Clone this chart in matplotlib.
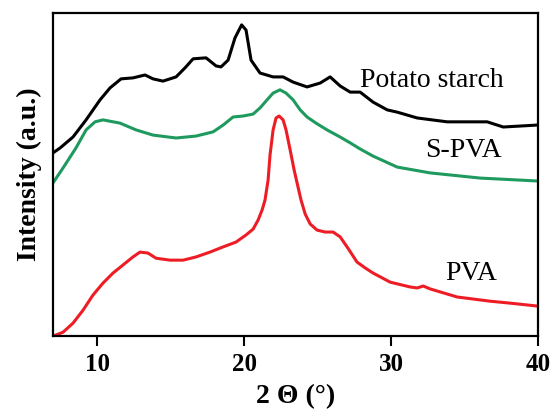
import matplotlib
matplotlib.use("Agg")
import matplotlib.pyplot as plt

plt.rcParams['font.family'] = ['Liberation Serif', 'DejaVu Serif']

# XRD patterns, 2theta (deg) vs intensity (a.u., already offset)
starch_2t = [7.00, 7.48, 8.36, 9.25, 10.20, 10.88, 11.63, 12.44, 13.26, 13.80,
             14.48, 15.37, 15.98, 16.53, 17.41, 18.09, 18.43, 18.91, 19.38, 19.83,
             20.13, 20.47, 21.08, 21.97, 22.65, 23.33, 24.28, 25.17, 25.85, 26.53,
             27.21, 27.89, 28.77, 29.73, 30.41, 31.77, 33.81, 35.37, 36.53, 37.62,
             38.78, 39.93]
starch_int = [56.7, 58.2, 61.6, 66.9, 73.1, 76.8, 79.6, 79.9, 80.8, 79.6,
              78.9, 80.2, 83.0, 85.8, 86.1, 83.6, 83.3, 85.4, 92.3, 96.3,
              94.7, 85.4, 81.4, 80.2, 80.2, 78.6, 77.1, 78.3, 80.2, 77.4,
              75.5, 75.5, 72.4, 70.0, 69.3, 67.5, 66.3, 66.3, 66.3, 64.7,
              65.0, 65.3]

spva_2t = [7.00, 7.68, 8.56, 9.25, 9.86, 10.40, 11.56, 12.65, 13.80, 15.37,
           16.73, 17.89, 18.57, 19.25, 19.93, 20.61, 21.08, 21.56, 21.97, 22.44,
           22.85, 23.33, 23.81, 24.28, 24.89, 25.64, 26.53, 27.21, 27.89, 28.77,
           30.41, 32.65, 36.05, 39.93]
spva_int = [47.4, 52.0, 58.2, 63.8, 66.3, 66.9, 65.9, 63.8, 62.2, 61.3,
            61.9, 63.2, 65.3, 67.8, 68.1, 68.7, 70.6, 73.1, 75.2, 76.2,
            75.2, 73.1, 70.0, 67.8, 65.9, 63.8, 61.6, 59.8, 57.9, 55.7,
            52.3, 50.5, 48.9, 48.0]

pva_2t = [7.00, 7.68, 8.36, 9.04, 9.72, 10.40, 11.08, 11.76, 12.44, 12.92,
          13.46, 14.01, 14.96, 15.85, 16.73, 17.68, 18.57, 19.45, 20.13, 20.61,
          20.95, 21.22, 21.42, 21.63, 21.76, 21.97, 22.17, 22.38, 22.65, 22.85,
          23.13, 23.40, 23.60, 23.87, 24.15, 24.49, 24.96, 25.51, 26.05, 26.53,
          27.00, 27.68, 28.23, 28.77, 29.93, 31.29, 31.77, 32.18, 32.65, 34.49,
          36.73, 38.09, 39.93]
pva_int = [0.0, 1.2, 4.0, 8.0, 12.7, 16.4, 19.5, 22.0, 24.5, 26.0,
           25.7, 24.1, 23.5, 23.5, 24.5, 26.0, 27.6, 29.1, 31.3, 33.1,
           35.9, 39.0, 42.1, 48.3, 56.0, 63.8, 67.5, 68.1, 66.9, 63.8,
           57.6, 51.4, 47.4, 42.1, 37.8, 34.7, 32.8, 32.2, 32.2, 30.7,
           27.6, 22.9, 21.1, 19.5, 16.7, 15.2, 14.9, 15.5, 14.6, 12.1,
           10.8, 10.2, 9.3]

xticks = [10, 20, 30, 40]

fig = plt.figure(figsize=(5.52, 4.17), dpi=100)
ax = fig.add_axes([0.096, 0.194, 0.879, 0.775])

ax.plot(starch_2t, starch_int, color='black', lw=2.2, solid_joinstyle='round')
ax.plot(spva_2t, spva_int, color='#1f9a5e', lw=2.2, solid_joinstyle='round')
ax.plot(pva_2t, pva_int, color='#ee1d25', lw=2.2, solid_joinstyle='round')

ax.text(27.9, 77.1, 'Potato starch', fontsize=20, va='baseline', ha='left')
ax.text(32.3, 55.4, 'S-PVA', fontsize=20, va='baseline', ha='left')
ax.text(33.7, 17.3, 'PVA', fontsize=20, va='baseline', ha='left')

ax.set_xlim(7, 40)
ax.set_ylim(0, 100)
ax.set_xticks(xticks)
ax.set_yticks([])
ax.tick_params(axis='x', direction='out', length=7, width=1.5, labelsize=18, pad=5)
for lab in ax.get_xticklabels():
    lab.set_fontweight('bold')
for sp in ax.spines.values():
    sp.set_linewidth(1.6)

ax.set_xlabel('2 \u0398 (\u00b0)', fontsize=20, fontweight='bold', labelpad=6)
ax.set_ylabel('Intensity (a.u.)', fontsize=20, fontweight='bold', labelpad=8)

fig.savefig('out.png', dpi=100)
